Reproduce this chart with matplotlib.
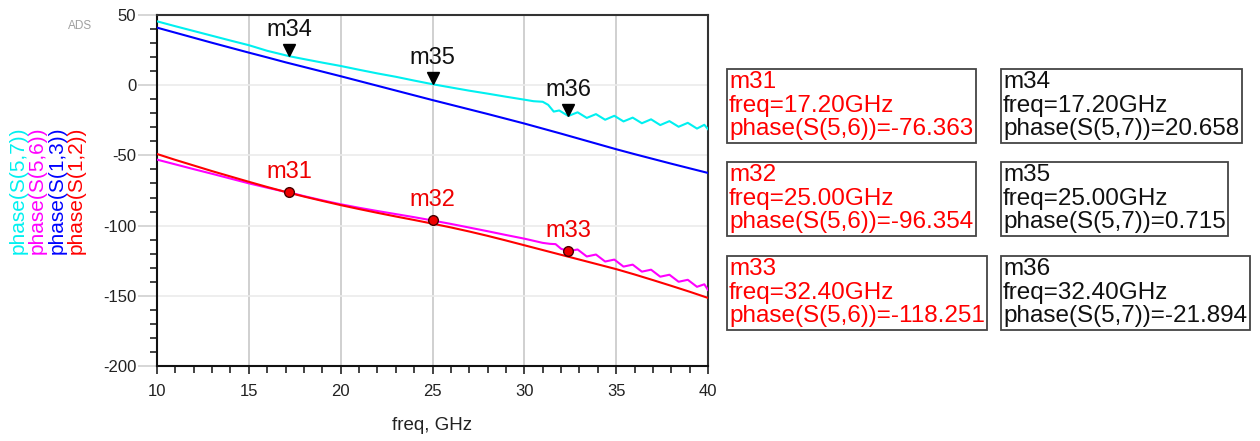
import matplotlib
matplotlib.use("Agg")
import matplotlib.pyplot as plt
from matplotlib import transforms

plt.rcParams['font.family'] = ['Liberation Sans', 'DejaVu Sans']

# ---- data -------------------------------------------------------------
freq_s57 = [10, 11, 12, 13, 14, 15, 16, 17, 17.2, 18, 19, 20, 21, 22, 23, 24,
            25, 26, 27, 28, 29, 30, 30.5, 31.0, 31.3, 31.6, 31.9, 32.2, 32.4,
            32.9, 33.4, 33.9, 34.4, 34.9, 35.4, 35.9, 36.4, 36.9, 37.4, 37.9,
            38.4, 38.9, 39.4, 39.8, 40]
phase_s57 = [45.5, 42.0, 38.6, 35.2, 31.8, 28.5, 24.5, 21.3, 20.658, 18.6, 16.1,
             13.7, 11.0, 8.4, 6.0, 3.3, 0.715, -1.6, -3.9, -6.0, -8.2, -10.3,
             -11.4, -11.8, -14.0, -18.8, -18.0, -20.4, -21.894,
             -19.3, -23.3, -20.6, -24.6, -21.8, -25.8, -23.1, -27.1, -24.3,
             -28.4, -25.6, -29.6, -26.8, -30.9, -28.2, -31.3]

freq_s56 = [10, 11, 12, 13, 14, 15, 16, 17, 17.2, 18, 19, 20, 21, 22, 23, 24,
            25, 26, 27, 28, 29, 30, 30.5, 31.0, 31.4, 31.7, 32.0, 32.4,
            32.9, 33.4, 33.9, 34.4, 34.9, 35.4, 35.9, 36.4, 36.9, 37.4, 37.9,
            38.4, 38.9, 39.4, 39.8, 40]
phase_s56 = [-53.0, -56.4, -59.8, -63.1, -66.5, -69.9, -73.0, -76.0, -76.363,
             -79.0, -82.0, -84.8, -87.3, -89.6, -91.8, -94.0, -96.354, -98.8,
             -101.4, -104.0, -106.7, -109.3, -110.8, -112.3, -113.0, -113.2,
             -116.5, -118.251,
             -117.0, -122.0, -120.6, -125.6, -124.2, -129.2, -127.8, -132.8,
             -131.4, -136.4, -135.0, -140.0, -138.6, -143.6, -141.8, -145.8]

freq_s13 = [10, 11, 12, 13, 14, 15, 16, 17, 18, 19, 20, 21, 22, 23, 24, 25,
            26, 27, 28, 29, 30, 31, 32, 33, 34, 35, 36, 37, 38, 39, 40]
phase_s13 = [41.0, 37.4, 33.8, 30.2, 26.7, 23.2, 19.8, 16.3, 13.0, 9.7, 6.4,
             3.0, -0.4, -3.8, -7.2, -10.6, -13.9, -17.2, -20.5, -23.9, -27.3,
             -30.9, -34.5, -38.2, -41.9, -45.6, -49.1, -52.5, -55.9, -59.2, -62.5]

freq_s12 = [10, 11, 12, 13, 14, 15, 16, 17, 18, 19, 20, 21, 22, 23, 24, 25,
            26, 27, 28, 29, 30, 31, 32, 33, 34, 35, 36, 37, 38, 39, 40]
phase_s12 = [-49.0, -53.2, -57.2, -61.2, -65.0, -68.8, -72.5, -76.0, -79.3,
             -82.4, -85.4, -88.2, -90.9, -93.5, -96.0, -98.6, -101.3, -104.2,
             -107.3, -110.6, -114.0, -117.4, -120.8, -124.2, -127.6, -131.0,
             -134.8, -138.8, -142.9, -147.1, -151.5]

marker_freq = [17.20, 25.00, 32.40]
names_s56 = ['m31', 'm32', 'm33']
values_s56 = [-76.363, -96.354, -118.251]
names_s57 = ['m34', 'm35', 'm36']
values_s57 = [20.658, 0.715, -21.894]

series_labels = ['phase(S(5,7))', 'phase(S(5,6))', 'phase(S(1,3))', 'phase(S(1,2))']
series_colors = ['#00f0f0', '#ff00ff', '#0000ff', '#ff0000']

x_ticks = [10, 15, 20, 25, 30, 35, 40]
y_ticks = [50, 0, -50, -100, -150, -200]

# ---- figure -----------------------------------------------------------
W, H = 1260, 441
fig = plt.figure(figsize=(W / 100, H / 100), dpi=100)
ax = fig.add_axes([157 / W, 1 - 366 / H, (708 - 157) / W, (366 - 15) / H])

ax.plot(freq_s57, phase_s57, color=series_colors[0], lw=1.5, zorder=3)
ax.plot(freq_s56, phase_s56, color=series_colors[1], lw=1.5, zorder=3)
ax.plot(freq_s13, phase_s13, color=series_colors[2], lw=1.5, zorder=3)
ax.plot(freq_s12, phase_s12, color=series_colors[3], lw=1.5, zorder=3)

ax.set_xlim(10, 40)
ax.set_ylim(-200, 50)
ax.set_xticks(x_ticks)
ax.set_yticks(y_ticks)
ax.set_xticks(range(10, 41), minor=True)
ax.set_yticks(range(-200, 51, 10), minor=True)
ax.set_yticklabels([str(v) for v in y_ticks])

for v in x_ticks[1:-1]:
    ax.axvline(v, color='#c8c8c8', lw=1.2, zorder=1)
for v in y_ticks[1:-1]:
    ax.axhline(v, color='#ebebeb', lw=1.2, zorder=1)

ax.tick_params(axis='both', which='both', direction='out', labelsize=12,
               labelcolor='#222222')
ax.tick_params(axis='y', which='major', length=14, color='#cfcfcf', width=1.2, pad=1)
ax.tick_params(axis='y', which='minor', length=5, color='#222222', width=1.2)
ax.tick_params(axis='x', which='major', length=6, color='#222222', width=1.2, pad=7)
ax.tick_params(axis='x', which='minor', length=5, color='#222222', width=1.2)

for side in ['left', 'bottom']:
    ax.spines[side].set_color('#111111')
    ax.spines[side].set_linewidth(1.5)
for side in ['top', 'right']:
    ax.spines[side].set_color('#333333')
    ax.spines[side].set_linewidth(1.5)

ax.set_xlabel('freq, GHz', fontsize=13.5, color='#222222', labelpad=13)

# marker symbols on the curves
tri_tf = transforms.offset_copy(ax.transData, fig=fig, x=0, y=6, units='dots')
ax.plot(marker_freq, values_s57, linestyle='none', marker='v', markersize=9,
        color='black', transform=tri_tf, zorder=5)
ax.plot(marker_freq, values_s56, linestyle='none', marker='o', markersize=7,
        markerfacecolor='#ee0000', markeredgecolor='#440000', markeredgewidth=1,
        zorder=5)
for f, v, n in zip(marker_freq, values_s57, names_s57):
    ax.annotate(n, (f, v), xytext=(0, 26), textcoords='offset pixels',
                ha='center', va='center', fontsize=17, color='#111111', zorder=6)
for f, v, n in zip(marker_freq, values_s56, names_s56):
    ax.annotate(n, (f, v), xytext=(0, 20), textcoords='offset pixels',
                ha='center', va='center', fontsize=17, color='#ee0000', zorder=6)

# marker readout boxes
box_tops = [71, 164, 258]
for i in range(3):
    txt56 = f"{names_s56[i]}\nfreq={marker_freq[i]:.2f}GHz\nphase(S(5,6))={values_s56[i]:.3f}"
    txt57 = f"{names_s57[i]}\nfreq={marker_freq[i]:.2f}GHz\nphase(S(5,7))={values_s57[i]:.3f}"
    fig.text(729 / W, 1 - box_tops[i] / H, txt56, ha='left', va='top',
             fontsize=17.5, color='#ff0000', linespacing=1.1,
             bbox=dict(boxstyle='square,pad=0.1', facecolor='white',
                       edgecolor='#444444', linewidth=1.3))
    fig.text(1003 / W, 1 - box_tops[i] / H, txt57, ha='left', va='top',
             fontsize=17.5, color='#111111', linespacing=1.1,
             bbox=dict(boxstyle='square,pad=0.1', facecolor='white',
                       edgecolor='#444444', linewidth=1.3))

# rotated series labels on the left
for k, (lab, col) in enumerate(zip(series_labels, series_colors)):
    fig.text((18 + 19.5 * k) / W, 1 - 190 / H, lab, rotation=90,
             ha='center', va='center', fontsize=15, color=col)

fig.text(80 / W, 1 - 26 / H, 'ADS', ha='center', va='center', fontsize=8.5,
         color='#a0a0a0')

fig.savefig('out.png', dpi=100)
